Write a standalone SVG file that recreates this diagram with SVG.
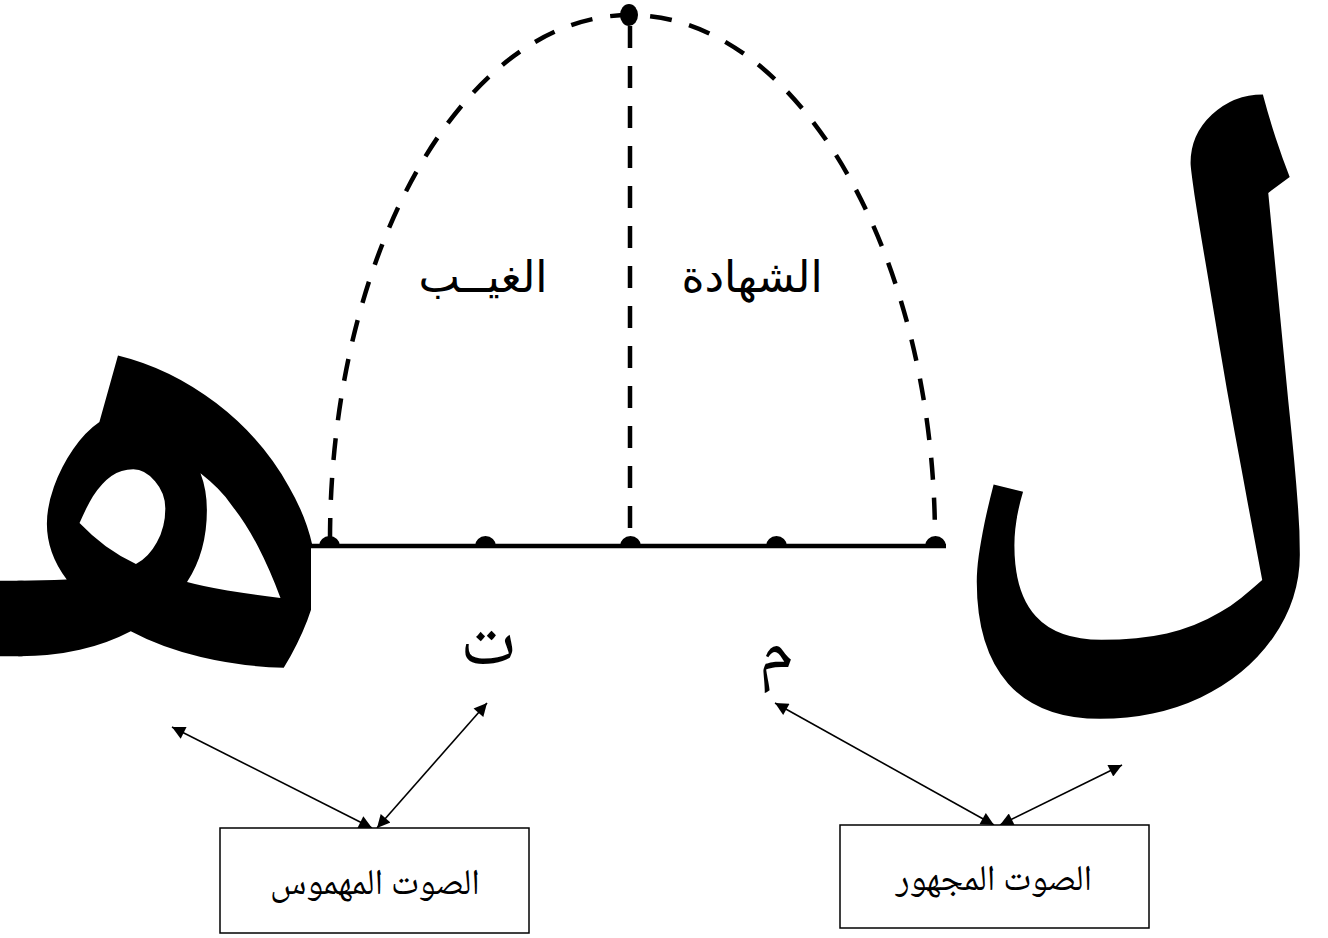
<svg xmlns="http://www.w3.org/2000/svg" width="1328" height="938" viewBox="0 0 1328 938">
<style>
.ar{font-family:"Noto Naskh Arabic","Amiri","DejaVu Sans",sans-serif;fill:#000}
.lbl{font-family:"DejaVu Sans",sans-serif;fill:#000;font-size:44px;text-anchor:middle}
.big{font-family:"Noto Naskh Arabic","Amiri","DejaVu Sans",sans-serif;font-weight:bold;fill:#000}
.dash{fill:none;stroke:#000;stroke-width:4.5;stroke-dasharray:22 18}
.arr{stroke:#000;stroke-width:1.6;fill:none;marker-start:url(#ah);marker-end:url(#ah)}
.box{fill:#fff;stroke:#000;stroke-width:1.5}
</style>
<defs>
<marker id="ah" viewBox="0 0 10 10" refX="10" refY="5" markerWidth="17" markerHeight="13" markerUnits="userSpaceOnUse" orient="auto-start-reverse">
<path d="M0 0 L10 5 L0 10 z" fill="#000"/>
</marker>
<clipPath id="clipHeh"><path d="M0 0 H420 V548 H311 V938 H0 Z"/></clipPath>
</defs>
<g id="heh"><text class="big" x="349" y="662" font-size="640" text-anchor="end" clip-path="url(#clipHeh)">هـ</text></g>
<g id="lam"><text class="big" x="1342" y="550" font-size="670" text-anchor="end">ل</text></g>
<g id="dome">
<path class="dash" d="M330 540 C330 252 464 15 630 15 C796 15 935 252 935 540"/>
<line class="dash" x1="630" y1="26" x2="630" y2="540"/>
<ellipse cx="629" cy="15" rx="9" ry="11" fill="#000"/>
</g>
<g id="baseline">
<line x1="311" y1="546" x2="946" y2="546" stroke="#000" stroke-width="4.5"/>
<path d="M319 546 a10.5 10 0 0 1 21 0 z M475 546 a10.5 10 0 0 1 21 0 z M620 546 a10.5 10 0 0 1 21 0 z M766 546 a10.5 10 0 0 1 21 0 z M925 546 a10.5 10 0 0 1 21 0 z" fill="#000"/>
</g>
<g id="ghayb"><text class="lbl" x="483" y="292">الغيــب</text></g>
<g id="shahada"><text class="lbl" x="752" y="292">الشهادة</text></g>
<g id="ta"><text class="ar" x="488" y="664" font-size="72" text-anchor="middle">ت</text></g>
<g id="mim"><text class="ar" x="776" y="671" font-size="72" text-anchor="middle">م</text></g>
<g id="connectors">
<line class="arr" x1="372" y1="828" x2="172" y2="727"/>
<line class="arr" x1="377" y1="828" x2="487" y2="703"/>
<line class="arr" x1="994" y1="825" x2="775" y2="703"/>
<line class="arr" x1="1000" y1="825" x2="1122" y2="765"/>
</g>
<g id="box-mahmus">
<rect class="box" x="220" y="828" width="309" height="105"/>
<text class="ar" x="375" y="894" font-size="36" text-anchor="middle">الصوت المهموس</text>
</g>
<g id="box-majhur">
<rect class="box" x="840" y="825" width="309" height="103"/>
<text class="ar" x="994" y="890" font-size="36" text-anchor="middle">الصوت المجهور</text>
</g>
</svg>
